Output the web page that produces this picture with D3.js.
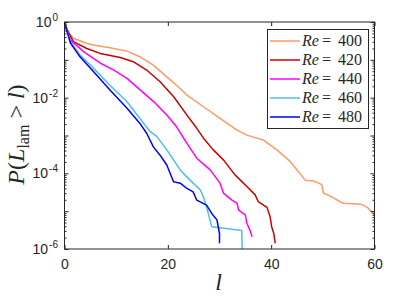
<!DOCTYPE html>
<html>
<head>
<meta charset="utf-8">
<script src="https://cdn.jsdelivr.net/npm/d3@7"></script>
<style>
  body { margin: 0; background: #fff; }
  text { fill: #262626; }
</style>
</head>
<body>
<svg width="415" height="301"></svg>
<script>
// Reynolds numbers for each series
const reValues = [400, 420, 440, 460, 480];
const colors = ['#ff9966', '#cc0000', '#ff00ff', '#4dbeee', '#0000ff'];

// l values and log10 P(L_lam > l)
const l400 = [0, 0.2, 0.85, 1.72, 4.3, 5.6, 8.8, 12.1, 14.6, 17.2, 19.8, 22.0, 23.7, 26.9, 30.1, 33.3, 35.3, 38.5, 41.1, 43.7, 45.0, 46.6, 48.2, 49.8, 50.1, 51.8, 53.3, 54.0, 57.5, 58.8, 60];
const lg400 = [0, -0.12, -0.30, -0.43, -0.56, -0.61, -0.68, -0.77, -0.92, -1.14, -1.45, -1.71, -1.93, -2.24, -2.55, -2.85, -2.99, -3.12, -3.38, -3.69, -3.91, -4.18, -4.20, -4.30, -4.52, -4.63, -4.75, -4.79, -4.82, -4.92, -5.10];

const l420 = [0, 0.5, 1.72, 4.3, 6.9, 10.8, 13.3, 15.9, 18.5, 21.1, 23.7, 25.6, 26.9, 28.8, 30.8, 33.0, 35.3, 36.9, 37.5, 39.2, 39.8, 40.1, 40.5, 40.8];
const lg420 = [0, -0.2, -0.52, -0.70, -0.83, -0.94, -1.05, -1.27, -1.58, -1.97, -2.46, -2.81, -3.07, -3.38, -3.65, -4.04, -4.35, -4.57, -4.75, -4.90, -5.15, -5.41, -5.59, -5.85];

const l440 = [0, 0.5, 1.16, 3.74, 6.97, 9.55, 12.1, 14.7, 17.3, 19.8, 21.7, 23.7, 25.6, 28.2, 30.1, 30.8, 32.4, 33.4, 33.7, 35.0, 35.3, 36.0, 36.3];
const lg440 = [0, -0.22, -0.48, -0.79, -1.09, -1.27, -1.49, -1.80, -2.11, -2.46, -2.77, -3.21, -3.60, -3.91, -4.26, -4.53, -4.71, -4.79, -4.97, -5.10, -5.32, -5.54, -5.68];

const l460 = [0, 0.5, 1.16, 3.0, 5.6, 8.8, 12.1, 14.6, 16.6, 17.9, 19.8, 22.4, 24.3, 26.3, 26.9, 27.6, 28.5, 34.3, 34.4];
const lg460 = [0, -0.24, -0.52, -0.87, -1.22, -1.67, -2.11, -2.55, -2.90, -3.03, -3.38, -3.91, -4.18, -4.44, -4.63, -4.94, -5.41, -5.51, -6.0];

const l480 = [0, 0.5, 1.16, 3.0, 5.6, 8.8, 12.1, 14.6, 15.9, 17.2, 18.5, 19.8, 21.1, 22.4, 23.7, 24.9, 25.6, 27.5, 28.5, 29.5, 30.0, 30.0];
const lg480 = [0, -0.25, -0.56, -0.92, -1.31, -1.80, -2.28, -2.68, -2.94, -3.30, -3.52, -3.78, -4.22, -4.26, -4.40, -4.49, -4.71, -4.84, -5.06, -5.23, -5.59, -5.85];

// tick labels
const xTicks = [0, 20, 40, 60];
const yTickExps = [0, -2, -4, -6];

const series = [
  [l400, lg400], [l420, lg420], [l440, lg440], [l460, lg460], [l480, lg480],
].map(([ls, lgs], i) => ({
  re: reValues[i],
  color: colors[i],
  points: ls.map((l, j) => [l, Math.pow(10, lgs[j])]),
}));

const mLeft = 64.5, mRight = 374.5, mTop = 22, mBottom = 249;
const svg = d3.select('svg');

const x = d3.scaleLinear().domain([0, 60]).range([mLeft, mRight]);
const y = d3.scaleLog().domain([1e-6, 1]).range([mBottom, mTop]);

// minor ticks for the log axis
const minor = [];
for (let e = -6; e < 0; e++) {
  for (let k = 2; k <= 9; k++) minor.push(k * Math.pow(10, e));
}
const majorY = d3.range(-6, 1).map(e => Math.pow(10, e));

svg.append('defs').append('clipPath').attr('id', 'plot')
  .append('rect').attr('x', mLeft).attr('y', mTop)
  .attr('width', mRight - mLeft).attr('height', mBottom - mTop);

// curves
const line = d3.line().x(d => x(d[0])).y(d => y(d[1]));
svg.append('g').attr('clip-path', 'url(#plot)')
  .selectAll('path').data(series).join('path')
  .attr('d', d => line(d.points))
  .attr('fill', 'none')
  .attr('stroke', d => d.color)
  .attr('stroke-width', 1.5)
  .attr('stroke-linejoin', 'round');

const axisStyle = g => {
  g.select('.domain').remove();
  g.selectAll('line').attr('stroke', '#262626');
};

// bottom and top axes, ticks inside
svg.append('g').attr('transform', `translate(0,${mBottom})`)
  .call(d3.axisBottom(x).tickValues(xTicks).tickSize(-4).tickPadding(10))
  .call(axisStyle)
  .selectAll('text')
  .attr('font-family', 'Liberation Sans, Arial, sans-serif')
  .attr('font-size', 14)
  .style('fill', '#262626');

svg.append('g').attr('transform', `translate(0,${mTop})`)
  .call(d3.axisTop(x).tickValues(xTicks).tickSize(-4).tickFormat(''))
  .call(axisStyle);

// left and right log axes with minor ticks
svg.append('g').attr('transform', `translate(${mLeft},0)`)
  .call(d3.axisLeft(y).tickValues(majorY).tickSize(-4).tickFormat(''))
  .call(axisStyle);
svg.append('g').attr('transform', `translate(${mLeft},0)`)
  .call(d3.axisLeft(y).tickValues(minor).tickSize(-2).tickFormat(''))
  .call(axisStyle);
svg.append('g').attr('transform', `translate(${mRight},0)`)
  .call(d3.axisRight(y).tickValues(majorY).tickSize(-4).tickFormat(''))
  .call(axisStyle);
svg.append('g').attr('transform', `translate(${mRight},0)`)
  .call(d3.axisRight(y).tickValues(minor).tickSize(-2).tickFormat(''))
  .call(axisStyle);

// frame
svg.append('rect')
  .attr('x', mLeft).attr('y', mTop)
  .attr('width', mRight - mLeft).attr('height', mBottom - mTop)
  .attr('fill', 'none').attr('stroke', '#262626').attr('stroke-width', 1);

// y tick labels 10^n
const yLab = svg.append('g')
  .attr('font-family', 'Liberation Sans, Arial, sans-serif')
  .selectAll('text').data(yTickExps).join('text')
  .attr('x', 58)
  .attr('y', d => y(Math.pow(10, d)) + 5)
  .attr('text-anchor', 'end');
yLab.append('tspan').attr('font-size', 14).text('10');
yLab.append('tspan').attr('font-size', 10).attr('dy', -6).attr('dx', 1)
  .text(d => d === 0 ? '0' : '-' + Math.abs(d));

// axis titles
svg.append('text')
  .attr('x', x(30) - 1).attr('y', 290)
  .attr('text-anchor', 'middle')
  .attr('font-family', 'Liberation Serif, Times New Roman, serif')
  .attr('font-style', 'italic')
  .attr('font-size', 24)
  .text('l');

const yt = svg.append('text')
  .attr('transform', `translate(24,${(mTop + mBottom) / 2 - 1}) rotate(-90)`)
  .attr('text-anchor', 'middle')
  .attr('font-family', 'Liberation Serif, Times New Roman, serif')
  .attr('font-size', 24);
yt.append('tspan').attr('font-style', 'italic').text('P');
yt.append('tspan').text('(');
yt.append('tspan').attr('font-style', 'italic').text('L');
yt.append('tspan').attr('font-size', 16).attr('dy', 5).text('lam');
yt.append('tspan').attr('dy', -5).text(' > ');
yt.append('tspan').attr('font-style', 'italic').text('l');
yt.append('tspan').text(')');

// legend
const lg = svg.append('g');
lg.append('rect')
  .attr('x', 267.5).attr('y', 29.5).attr('width', 101).attr('height', 99)
  .attr('fill', '#fff').attr('stroke', '#262626').attr('stroke-width', 1);
const rows = lg.selectAll('g.row').data(series).join('g')
  .attr('class', 'row')
  .attr('transform', (d, i) => `translate(0,${41 + i * 19})`);
rows.append('line')
  .attr('x1', 270).attr('x2', 300)
  .attr('stroke', d => d.color).attr('stroke-width', 1.5);
const lt = rows.append('text')
  .attr('x', 302).attr('y', 5)
  .attr('font-family', 'Liberation Serif, Times New Roman, serif')
  .attr('font-size', 16);
lt.append('tspan').attr('font-style', 'italic').text('Re');
lt.append('tspan').attr('x', 322).text('=');
lt.append('tspan').attr('x', 338).text(d => d.re);
</script>
</body>
</html>
